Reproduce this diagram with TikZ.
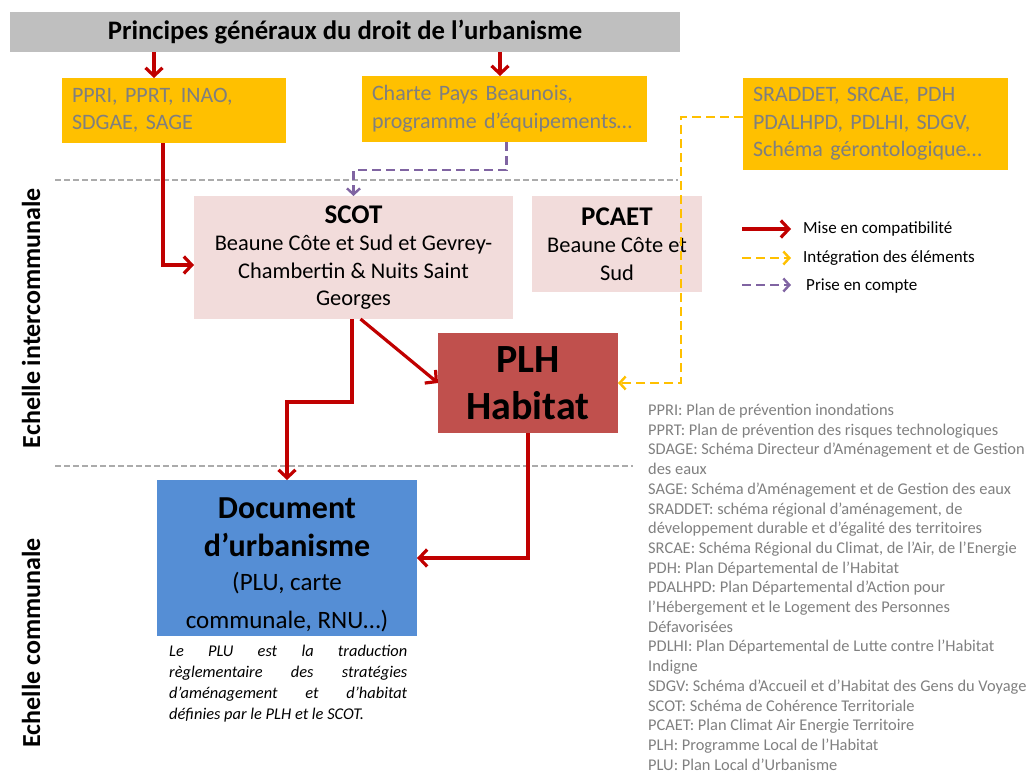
\documentclass[tikz,border=0pt]{standalone}
\usepackage{fontspec}
\setmainfont{Carlito}
\usetikzlibrary{arrows.meta}
\definecolor{bandgray}{HTML}{BFBFBF}
\definecolor{ambre}{HTML}{FFC000}
\definecolor{ambretext}{HTML}{7F7F7F}
\definecolor{rosepale}{HTML}{F2DCDB}
\definecolor{rougefonce}{HTML}{C00000}
\definecolor{rougeplh}{HTML}{C0504D}
\definecolor{bleudoc}{HTML}{558ED5}
\definecolor{violetc}{HTML}{8064A2}
\definecolor{gristrait}{HTML}{ABABAB}
\definecolor{gristexte}{HTML}{808080}

\begin{document}
\begin{tikzpicture}[x=1pt, y=-1pt,
  bloc/.style={anchor=north west, inner sep=0pt, outer sep=0pt},
  jaune/.style={bloc, fill=ambre, text=ambretext, align=left, inner xsep=10pt,
    font=\fontsize{22}{27.5}\selectfont},
  rose/.style={bloc, fill=rosepale, align=center, font=\fontsize{22.4}{27.5}\selectfont},
  titre/.style={font=\fontsize{26}{30}\selectfont\bfseries},
  compat/.style={rougefonce, line width=3.2pt, -{Straight Barb[length=8pt,width=17pt]}},
  integ/.style={ambre, line width=2.4pt, dash pattern=on 9pt off 5pt,
    -{Straight Barb[length=6pt,width=13pt]}},
  prise/.style={violetc, line width=2.4pt, dash pattern=on 9pt off 5pt,
    -{Straight Barb[length=6pt,width=13pt]}},
  sep/.style={gristrait, line width=1.3pt, dash pattern=on 6pt off 3pt},
  legende/.style={anchor=west, inner sep=0pt, font=\fontsize{17}{20}\selectfont}]
  \useasboundingbox (0,0) rectangle (1027,776);

  % bandeau et documents de rang superieur
  \node[bloc, fill=bandgray, minimum width=670, minimum height=40,
    font=\fontsize{26.7}{30}\selectfont\bfseries] (principes) at (10,12)
    {Principes généraux du droit de l’urbanisme};
  \node[jaune, minimum width=224, minimum height=65, text width=204] (ppri) at (62,78)
    {PPRI, PPRT, INAO,\\SDGAE, SAGE};
  \node[jaune, minimum width=285, minimum height=66, text width=265] (charte) at (362,76)
    {Charte Pays Beaunois,\\programme d’équipements…};
  \node[jaune, minimum width=265, minimum height=92, text width=245] (sraddet) at (743,78)
    {SRADDET, SRCAE, PDH\\PDALHPD, PDLHI, SDGV,\\Schéma gérontologique…};

  % separations d'echelle
  \draw[sep] (55,180) -- (678,180);
  \draw[sep] (55,466) -- (633,466);
  \node[rotate=90, titre] (echinter) at (31,318) {Echelle intercommunale};
  \node[rotate=90, titre] (echcom) at (31,643) {Echelle communale};

  % echelle intercommunale
  \node[rose, minimum width=319, minimum height=123] (scot) at (194,196)
    {{\fontsize{27}{30}\selectfont\bfseries SCOT}\\Beaune Côte et Sud et Gevrey-\\Chambertin \& Nuits Saint\\Georges};
  \node[rose, minimum width=170, minimum height=96] (pcaet) at (532,196)
    {{\fontsize{27}{30}\selectfont\bfseries PCAET}\\Beaune Côte et\\Sud};
  \node[bloc, fill=rougeplh, minimum width=180, minimum height=100, align=center,
    font=\fontsize{40}{47}\selectfont\bfseries] (plh) at (438,333) {PLH\\Habitat};

  % echelle communale
  \node[bloc, fill=bleudoc, minimum width=260, minimum height=156] (doc) at (157,480) {};
  \node[align=center, inner sep=0pt, font=\fontsize{25}{38}\selectfont] (doctxt) at ([yshift=-7]doc.center)
    {{\fontsize{32}{38}\selectfont\bfseries Document}\\{\fontsize{32}{38}\selectfont\bfseries d’urbanisme}\\[-4pt](PLU, carte\\communale, RNU…)};
  \node[anchor=north west, inner sep=0pt, text width=238, align=justify,
    font=\fontsize{16.4}{21}\selectfont\itshape] (note) at (169,645)
    {Le PLU est la traduction\linebreak règlementaire des stratégies\linebreak d’aménagement et d’habitat\linebreak définies par le PLH et le SCOT.};

  % liens
  \draw[compat] ([xshift=-20]ppri.north |- principes.south) -- ([xshift=-20]ppri.north);
  \draw[compat] ([xshift=-4.5]charte.north |- principes.south) -- ([xshift=-4.5]charte.north);
  \draw[compat] ([xshift=-11]ppri.south) |- ([yshift=-7.5]scot.west);
  \draw[prise] ([xshift=2]charte.south) -- ++(0,28) -| (scot.north);
  \draw[integ] ([yshift=7]sraddet.west) -- ++(-62,0) |- (plh.east);
  \draw[compat] ([xshift=7]scot.south) -- (plh.west);
  \draw[compat] ([xshift=-1.5]scot.south) -- ++(0,83) -| (doc.north);
  \draw[compat] (plh.south) |- (doc.east);

  % legende
  \coordinate (lg1a) at (742,229); \coordinate (lg1b) at (791,229);
  \coordinate (lg2a) at (742,258); \coordinate (lg2b) at (791,258);
  \coordinate (lg3a) at (742,285); \coordinate (lg3b) at (791,285);
  \draw[compat] (lg1a) -- (lg1b);
  \draw[integ] (lg2a) -- (lg2b);
  \draw[prise] (lg3a) -- (lg3b);
  \node[legende] (mise) at (803,229) {Mise en compatibilité};
  \node[legende] (integration) at (803,258) {Intégration des éléments};
  \node[legende] (prisecpt) at (806,286) {Prise en compte};

  % sigles
  \node[anchor=north west, inner sep=0pt, align=left, text=gristexte,
    font=\fontsize{16.4}{19.7}\selectfont] (sigles) at (648,404)
    {PPRI: Plan de prévention inondations\\
     PPRT: Plan de prévention des risques technologiques\\
     SDAGE: Schéma Directeur d’Aménagement  et de Gestion\\
     des eaux\\
     SAGE: Schéma d’Aménagement  et de Gestion des eaux\\
     SRADDET:  schéma régional d’aménagement, de\\
     développement  durable et d’égalité des territoires\\
     SRCAE: Schéma Régional du Climat, de l’Air, de l’Energie\\
     PDH: Plan Départemental de l’Habitat\\
     PDALHPD:  Plan Départemental d’Action pour\\
     l’Hébergement  et le Logement  des Personnes\\
     Défavorisées\\
     PDLHI: Plan Départemental de Lutte contre l’Habitat\\
     Indigne\\
     SDGV: Schéma d’Accueil et d’Habitat des Gens du Voyage\\
     SCOT: Schéma de Cohérence Territoriale\\
     PCAET:  Plan Climat Air Energie Territoire\\
     PLH: Programme Local de l’Habitat\\
     PLU: Plan Local d’Urbanisme};
\end{tikzpicture}
\end{document}
